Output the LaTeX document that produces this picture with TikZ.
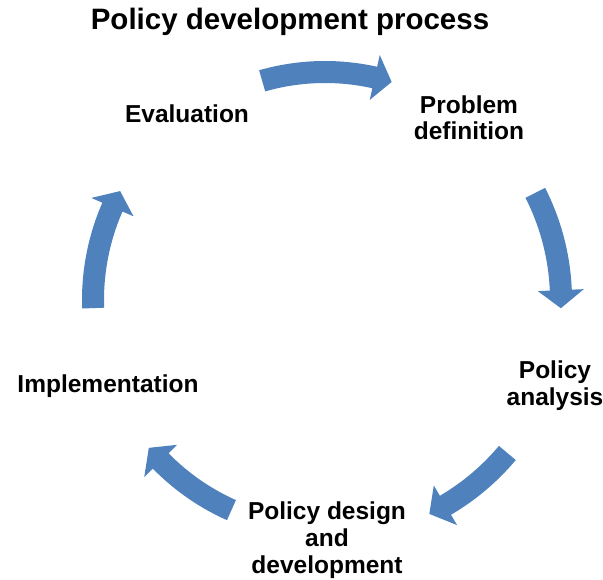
\documentclass[tikz,border=0pt]{standalone}
\usepackage{fontspec}
\setmainfont{Liberation Sans}
\usepackage{xcolor}
\definecolor{cycleblue}{HTML}{4F81BD}

% curved block arrow round the cycle centre:
% #1 radius, #2 tail angle, #3 tip angle (clockwise, so #3 < #2)
\newcommand{\cyclearrow}[3]{%
  \pgfmathsetmacro{\headbase}{#3+4.4}%
  \fill[cycleblue]
    (#2:#1+11) arc[start angle=#2, end angle=\headbase, radius=#1+11]
    -- (\headbase:#1+23) -- (#3:#1) -- (\headbase:#1-23)
    -- (\headbase:#1-11) arc[start angle=\headbase, end angle=#2, radius=#1-11]
    -- cycle;%
}

\begin{document}
\begin{tikzpicture}[x=0.5pt, y=0.5pt,
    title/.style={font=\bfseries\fontsize{14.75}{17}\selectfont, inner sep=0pt, anchor=base},
    stage/.style={font=\bfseries\fontsize{12.25}{13.3}\selectfont, align=center, inner sep=0pt, anchor=base}]
  \useasboundingbox (0,0) rectangle (603,579);

  \node[title] (heading) at (290,549) {Policy development process};

  % the five stages (base = last line)
  \node[stage] (problem) at (469,439) {Problem\\definition};
  \node[stage] (analysis) at (555,174) {Policy\\analysis};
  \node[stage] (design) at (327,6) {Policy design\\and\\development};
  \node[stage] (implement) at (108,187) {Implementation};
  \node[stage] (evaluation) at (187,456) {Evaluation};

  % arrows between the stages
  \begin{scope}[shift={(325,279)}]
    \cyclearrow{228}{106}{73}
    \cyclearrow{236}{27}{-2}
    \cyclearrow{238}{-40}{-64}
    \cyclearrow{230}{-114}{-140}
    \cyclearrow{232}{182}{152}
  \end{scope}
\end{tikzpicture}
\end{document}
